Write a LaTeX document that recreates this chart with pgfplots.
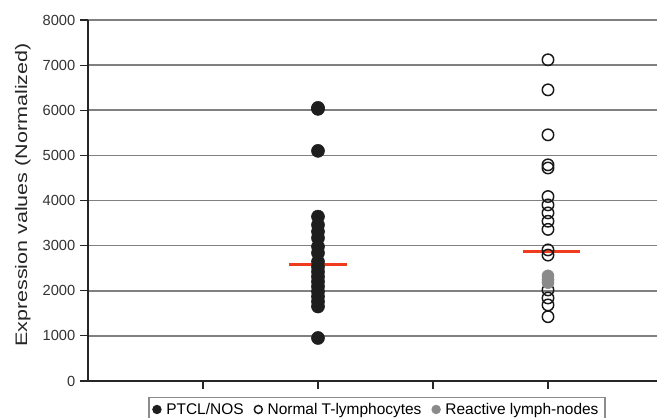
\documentclass[border=0pt]{standalone}
\usepackage{pgfplots}
\pgfplotsset{compat=1.18}
\usepackage{fontspec}
\setmainfont{Liberation Sans}
\usepackage{graphicx}
\definecolor{ptcl}{HTML}{1E1E1E}
\definecolor{react}{HTML}{8A8A8A}
\definecolor{meanred}{HTML}{F03C1E}
\definecolor{gridgray}{HTML}{808080}
\begin{document}
\begin{tikzpicture}
\begin{axis}[
  scale only axis,
  width=426.75pt, height=270.75pt,
  xmin=0, xmax=4.948,
  ymin=0, ymax=8000,
  xtick={1,2,3,4}, xticklabels={},
  ytick={0,1000,...,8000},
  axis x line*=bottom, axis y line*=left,
  axis line style={-, line width=1.1pt, black!85},
  tick align=outside,
  major tick length=6pt,
  tick style={line width=0.9pt, black!85},
  ymajorgrids,
  major grid style={line width=1.3pt, gridgray},
  /pgf/number format/assume math mode=true,
  /pgf/number format/1000 sep={},
  yticklabel style={font=\fontsize{11}{13}\selectfont, text=black!80},
  ylabel={\scalebox{1.29}[1]{Expression values (Normalized)}},
  ylabel style={at={(rel axis cs:-0.1072,0.515)}, anchor=base, font=\fontsize{12.5}{15}\selectfont, text=black!85},
  clip=false,
  legend columns=-1,
  legend style={at={(rel axis cs:0.508,-0.044)}, anchor=north, draw=black!45, line width=1pt,
    font=\fontsize{11.6}{14}\selectfont, inner xsep=3pt, inner ysep=2pt,
    /tikz/every odd column/.append style={column sep=2pt},
    /tikz/every even column/.append style={column sep=6pt}},
  legend image code/.code={\draw[#1] plot coordinates {(0.1cm,0cm)};},
  legend image post style={mark size=3pt},
]
\addplot[only marks, mark=*, mark size=4.9pt, ptcl, mark options={draw=ptcl, fill=ptcl}] coordinates {
 (2,6053) (2,6030) (2,5100) (2,3643) (2,3459) (2,3310) (2,3170) (2,2978) (2,2838)
 (2,2645) (2,2530) (2,2420) (2,2310) (2,2200) (2,2090) (2,1980) (2,1870) (2,1760) (2,1650)
 (2,953)
};
\addlegendentry{PTCL/NOS}
\addplot[only marks, mark=o, mark size=4.3pt, black, mark options={line width=1.1pt, draw=black!90, fill=white}] coordinates {
 (4,7118) (4,6452) (4,5455) (4,4790) (4,4720) (4,4087) (4,3902) (4,3725) (4,3540) (4,3360)
 (4,2905) (4,2790) (4,2018) (4,1840) (4,1685) (4,1425)
};
\addlegendentry{Normal T-lymphocytes}
\addplot[only marks, mark=*, mark size=4.5pt, react, mark options={draw=react, fill=react}] coordinates {
 (4,2330) (4,2250) (4,2180)
};
\addlegendentry{Reactive lymph-nodes}
\addplot[forget plot, meanred, line width=2.4pt] coordinates {(1.75,2575) (2.25,2575)};
\addplot[forget plot, meanred, line width=2.4pt] coordinates {(3.78,2867) (4.28,2867)};
\coordinate (bbA) at (rel axis cs:-0.15466,-0.10249);
\coordinate (bbB) at (rel axis cs:1,1.0554);
\end{axis}
\pgfresetboundingbox
\useasboundingbox (bbA) rectangle (bbB);
\end{tikzpicture}
\end{document}
